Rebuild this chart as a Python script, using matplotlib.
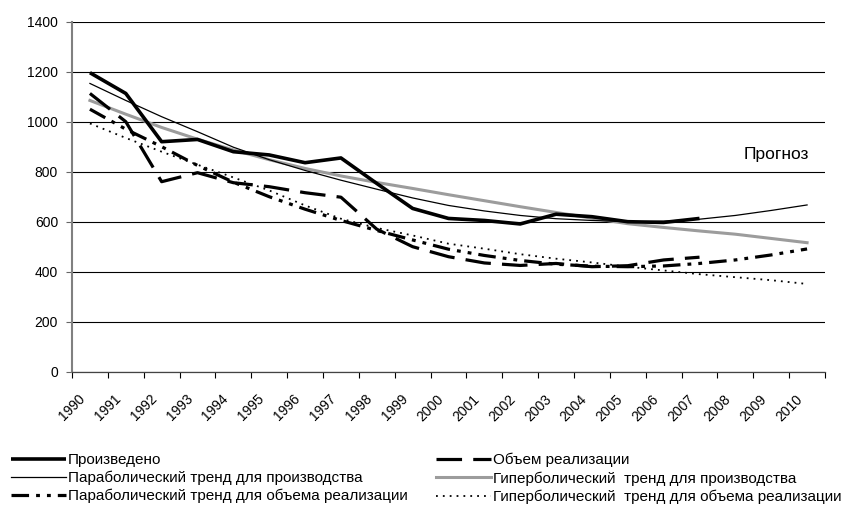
import matplotlib
matplotlib.use("Agg")
import matplotlib.pyplot as plt
import matplotlib.transforms as mtransforms
import numpy as np
from matplotlib.lines import Line2D

plt.rcParams['font.family'] = ['Liberation Sans', 'DejaVu Sans']

years = list(range(1990, 2011))
year_labels = [str(y) for y in years]

produced = [1196, 1113, 920, 929, 880, 867, 836, 855, 753, 653, 613, 605,
            591, 630, 620, 600, 597, 613]
sales = [1113, 1000, 760, 796, 756, 740, 716, 698, 570, 500, 460, 435,
         425, 433, 420, 424, 447, 458]
parab_prod = [1153, 1085, 1020, 960, 898, 848, 805, 766, 730, 695, 665, 643,
              625, 612, 605, 600, 602, 610, 625, 645, 667]
hyper_prod = [1085, 1030, 977, 930, 887, 848, 813, 783, 757, 733, 708, 684,
              660, 637, 614, 592, 577, 563, 550, 533, 516]
parab_sales = [1050, 970, 900, 825, 758, 700, 650, 605, 565, 527, 490, 465,
               445, 430, 422, 420, 423, 433, 447, 467, 491]
hyper_sales = [993, 935, 880, 828, 777, 725, 665, 612, 575, 545, 512, 492,
               470, 452, 437, 420, 405, 390, 378, 366, 351]

names = ["Произведено", "Объем реализации",
         "Параболический тренд для производства", "Гиперболический  тренд для производства",
         "Параболический тренд для объема реализации", "Гиперболический  тренд для объема реализации"]

fig = plt.figure(figsize=(8.5, 5.05), dpi=100)
ax = fig.add_axes([72/850, 1-371.7/505, (825-72)/850, (371.7-21.7)/505])

x = np.arange(len(years))
styles = {
    'prod': dict(color='black', lw=2.6, solid_capstyle='butt', solid_joinstyle='round'),
    'sales': dict(color='black', lw=2.3, linestyle=(0, (8, 3.5)), dash_capstyle='butt'),
    'pprod': dict(color='black', lw=0.9),
    'hprod': dict(color='#9c9c9c', lw=2.2),
    'psales': dict(color='black', lw=2.3, linestyle=(0, (5.5, 2.2, 1.2, 2.2, 1.2, 2.2)), dash_capstyle='butt'),
    'hsales': dict(color='black', lw=1.3, linestyle=(0, (1, 2.8)), dash_capstyle='butt'),
}

ax.plot(x, hyper_sales, **styles['hsales'], zorder=3)
ax.plot(x, parab_sales, **styles['psales'], zorder=3)
ax.plot(x[:len(sales)], sales, **styles['sales'], zorder=4)
ax.plot(x, hyper_prod, **styles['hprod'], zorder=3)
ax.plot(x, parab_prod, **styles['pprod'], zorder=4)
ax.plot(x[:len(produced)], produced, **styles['prod'], zorder=5)

ax.set_xlim(-0.5, len(years) - 0.5)
ax.set_ylim(0, 1400)
ax.set_yticks(np.arange(0, 1401, 200))
ax.yaxis.grid(True, color='black', lw=0.8)
ax.set_axisbelow(True)

ax.set_xticks(x)
ax.set_xticklabels(year_labels, rotation=45, ha='right', va='top',
                   rotation_mode='anchor', fontsize=10)
ax.tick_params(axis='x', which='major', length=0, pad=14.5)
off = mtransforms.ScaledTranslation(-12/100, 0, fig.dpi_scale_trans)
for lab in ax.get_xticklabels():
    lab.set_transform(lab.get_transform() + off)
ax.set_xticks(np.arange(-0.5, len(years), 1), minor=True)
ax.tick_params(axis='x', which='minor', length=4, width=0.8, color='black', direction='out')
ax.tick_params(axis='y', length=4, width=0.8, color='#666666', labelsize=10, pad=6)

for s in ['top', 'right']:
    ax.spines[s].set_visible(False)
ax.spines['left'].set_color('#808080')
ax.spines['left'].set_linewidth(1.5)
ax.spines['bottom'].set_color('#444444')
ax.spines['bottom'].set_linewidth(0.9)

ax.text(776/850, 1-155/505, "Прогноз", transform=fig.transFigure,
        ha='center', va='center', fontsize=12.5)

h = {k: Line2D([], [], **v) for k, v in styles.items()}
common = dict(frameon=False, fontsize=11, borderpad=0, borderaxespad=0,
              handlelength=3.6, handletextpad=0.1, labelspacing=0.25,
              loc='upper left')
fig.legend([h['prod'], h['pprod'], h['psales']], [names[0], names[2], names[4]],
           bbox_to_anchor=(11/850, 1-453/505), **common)
fig.legend([h['sales'], h['hprod'], h['hsales']], [names[1], names[3], names[5]],
           bbox_to_anchor=(436/850, 1-453/505), **common)

fig.savefig("out.png", dpi=100)
